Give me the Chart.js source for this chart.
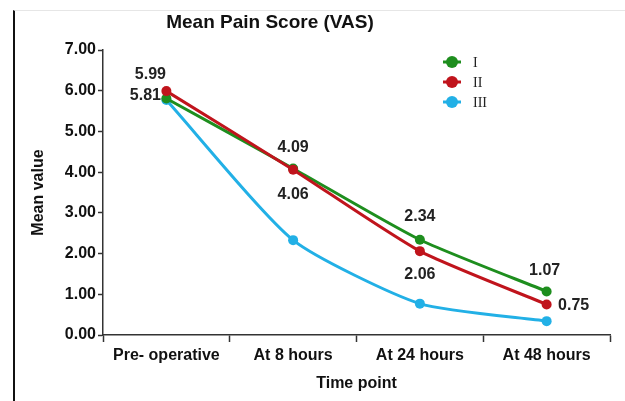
<!DOCTYPE html>
<html>
<head>
<meta charset="utf-8">
<script src="https://cdn.jsdelivr.net/npm/chart.js@4.4.1/dist/chart.umd.min.js"></script>
<style>
  html, body { margin: 0; padding: 0; background: #fff; }
  #wrap { position: relative; width: 625px; height: 401px; }
  #frame { position: absolute; left: 13px; top: 10px; width: 612px; height: 391px;
           border-left: 2px solid #111; border-top: 1px solid #e6e6e6; box-sizing: border-box; }
  #chart { position: absolute; left: 0; top: 0; }
</style>
</head>
<body>
<div id="wrap">
  <div id="frame"></div>
  <canvas id="chart" width="625" height="401"></canvas>
</div>
<script>
// data
var timePoints = ['Pre- operative', 'At 8 hours', 'At 24 hours', 'At 48 hours'];
var groupI = [5.81, 4.09, 2.34, 1.07];
var groupII = [5.99, 4.06, 2.06, 0.75];
var groupIII = [5.77, 2.33, 0.77, 0.34];
var yTicks = [0, 1, 2, 3, 4, 5, 6, 7];
var chartTitle = 'Mean Pain Score (VAS)';

var green = '#1e8e1e';
var red = '#c0141c';
var blue = '#22b0e6';

// where the printed values sit relative to their point (dataset, index, dx, dy)
var valueLabels = [
    [1, 0, -16, -17],
    [0, 0, -21, -3],
    [0, 1, 0, -21],
    [1, 1, 0, 25],
    [0, 2, 0, -23],
    [1, 2, 0, 23],
    [0, 3, -2, -21],
    [1, 3, 27, 1]
];

var valuePlugin = {
    id: 'values',
    afterDatasetsDraw: function(chart) {
        var ctx = chart.ctx;
        ctx.save();
        ctx.font = 'bold 16px "Liberation Sans", Arial, sans-serif';
        ctx.fillStyle = '#222';
        ctx.textAlign = 'center';
        ctx.textBaseline = 'middle';
        valueLabels.forEach(function(l) {
            var el = chart.getDatasetMeta(l[0]).data[l[1]];
            var v = chart.data.datasets[l[0]].data[l[1]];
            ctx.fillText(v.toFixed(2), el.x + l[2], el.y + l[3]);
        });
        ctx.restore();
    }
};

// title sits left of centre in the original, so it is drawn here
var titlePlugin = {
    id: 'offTitle',
    afterDraw: function(chart) {
        var ctx = chart.ctx;
        ctx.save();
        ctx.font = 'bold 19px "Liberation Sans", Arial, sans-serif';
        ctx.fillStyle = '#111';
        ctx.textAlign = 'center';
        ctx.textBaseline = 'middle';
        ctx.fillText(chartTitle, 270, 23);
        ctx.restore();
    }
};

var legendPlugin = {
    id: 'sideLegend',
    afterDraw: function(chart) {
        var ctx = chart.ctx;
        ctx.save();
        ctx.font = '14px "Liberation Serif", "Times New Roman", serif';
        ctx.textBaseline = 'middle';
        chart.data.datasets.forEach(function(ds, i) {
            var x = 452, y = 62 + i * 20;
            ctx.strokeStyle = ds.borderColor;
            ctx.lineWidth = 3;
            ctx.beginPath();
            ctx.moveTo(x - 9, y);
            ctx.lineTo(x + 9, y);
            ctx.stroke();
            ctx.fillStyle = ds.borderColor;
            ctx.beginPath();
            ctx.arc(x, y, 6, 0, Math.PI * 2);
            ctx.fill();
            ctx.fillStyle = '#222';
            ctx.fillText(ds.label, 473, y + 1);
        });
        ctx.restore();
    }
};

function lineSet(label, data, color, order) {
    return {
        label: label,
        data: data,
        order: order,
        borderColor: color,
        backgroundColor: color,
        borderWidth: 3,
        pointRadius: 5,
        pointBackgroundColor: color,
        pointBorderWidth: 0,
        tension: 0.2
    };
}

var axisFont = { family: '"Liberation Sans", Arial, sans-serif', size: 16, weight: 'bold' };

var myChart = new Chart(document.getElementById('chart'), {
    type: 'line',
    data: {
        labels: timePoints,
        datasets: [
            lineSet('I', groupI, green, 2),
            lineSet('II', groupII, red, 1),
            lineSet('III', groupIII, blue, 3)
        ]
    },
    options: {
        responsive: false,
        animation: false,
        layout: { padding: { left: 25, right: 15, top: 50, bottom: 0 } },
        plugins: {
            legend: { display: false },
            tooltip: { enabled: false },
            title: { display: false }
        },
        scales: {
            x: {
                offset: true,
                grid: { display: true, drawOnChartArea: false, offset: true, tickLength: 7, color: '#333', tickWidth: 1.5 },
                border: { color: '#333', width: 1.5 },
                ticks: { color: '#111', font: axisFont, padding: 4, maxRotation: 0 },
                title: { display: true, text: 'Time point', color: '#111', font: axisFont, padding: { top: 2, bottom: 8 } },
                afterFit: function(s) { s.height = 66; }
            },
            y: {
                min: 0,
                max: 7,
                afterBuildTicks: function(s) { s.ticks = yTicks.map(function(v) { return { value: v }; }); },
                grid: { display: true, drawOnChartArea: false, tickLength: 5, color: '#333', tickWidth: 1.5 },
                border: { color: '#333', width: 1.5 },
                ticks: {
                    color: '#111', font: axisFont, padding: 2,
                    callback: function(v) { return Number(v).toFixed(2); }
                },
                title: { display: true, text: 'Mean value', color: '#111', font: axisFont, padding: { bottom: 8 } },
                afterFit: function(s) { s.width = 78; }
            }
        }
    },
    plugins: [valuePlugin, titlePlugin, legendPlugin]
});
</script>
</body>
</html>
